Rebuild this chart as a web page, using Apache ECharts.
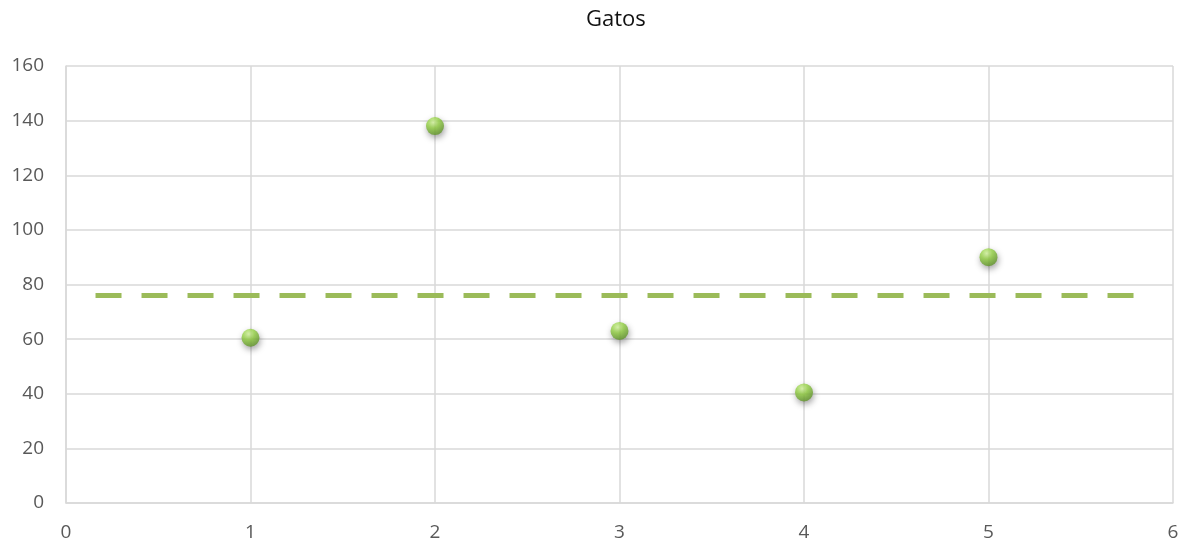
<!DOCTYPE html>
<html>
<head>
<meta charset="utf-8">
<script src="https://cdn.jsdelivr.net/npm/echarts@6/dist/echarts.min.js"></script>
<style>
  html, body { margin: 0; padding: 0; background: #fff; }
  #chart { width: 1187px; height: 549px; }
</style>
</head>
<body>
<div id="chart"></div>
<script>
    // values
    var xValues = [1, 2, 3, 4, 5];
    var yValues = [60.5, 138, 63, 40.5, 90];
    var avgValue = 76;
    var avgSpan = [0.16, 5.83];

    var pointData = xValues.map(function (x, i) {
        return [x, yValues[i]];
    });
    var avgData = avgSpan.map(function (x) {
        return [x, avgValue];
    });

    var gridColor = '#d9d9d9';
    var labelStyle = {
        color: '#595959',
        fontSize: 19,
        fontFamily: 'Open Sans'
    };

    var myChart = echarts.init(document.getElementById('chart'));
    myChart.setOption({
        animation: false,
        title: {
            text: 'Gatos',
            left: 581,
            top: 4,
            textStyle: {
                color: '#111',
                fontSize: 22,
                fontWeight: 'normal',
                fontFamily: 'Open Sans'
            }
        },
        grid: {
            left: 66,
            right: 14,
            top: 66,
            bottom: 46
        },
        xAxis: {
            type: 'value',
            min: 0,
            max: 6,
            interval: 1,
            axisLine: { show: true, lineStyle: { color: gridColor, width: 1.5 } },
            axisTick: { show: false },
            axisLabel: Object.assign({ margin: 20 }, labelStyle),
            splitLine: { show: true, lineStyle: { color: gridColor, width: 1.5 } }
        },
        yAxis: {
            type: 'value',
            min: 0,
            max: 160,
            interval: 20,
            axisLine: { show: true, lineStyle: { color: gridColor, width: 1.5 } },
            axisTick: { show: false },
            axisLabel: Object.assign({ margin: 22 }, labelStyle),
            splitLine: { show: true, lineStyle: { color: gridColor, width: 1.5 } }
        },
        series: [
            {
                type: 'line',
                data: avgData,
                symbol: 'none',
                z: 2,
                lineStyle: {
                    color: '#9bbb59',
                    width: 5,
                    type: [26, 20]
                }
            },
            {
                type: 'scatter',
                data: pointData,
                symbolSize: 18,
                z: 3,
                itemStyle: {
                    color: new echarts.graphic.RadialGradient(0.4, 0.3, 0.7, [
                        { offset: 0, color: '#d6f7a0' },
                        { offset: 0.45, color: '#96d345' },
                        { offset: 1, color: '#62962a' }
                    ]),
                    shadowColor: 'rgba(0,0,0,0.45)',
                    shadowBlur: 6,
                    shadowOffsetX: 1,
                    shadowOffsetY: 3
                }
            }
        ]
    });
</script>
</body>
</html>
